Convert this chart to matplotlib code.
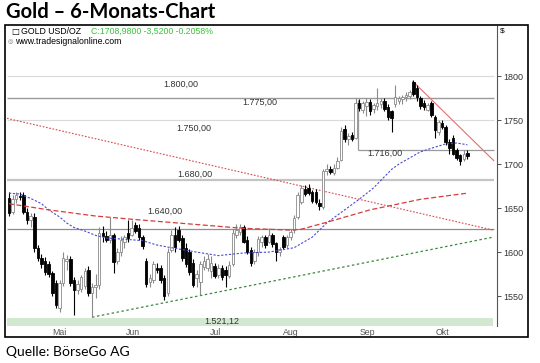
import matplotlib
matplotlib.use("Agg")
import matplotlib.pyplot as plt
from matplotlib.patches import Rectangle

W, H = 540, 363

# daily candles (late April .. late October)
opens = [1662, 1646, 1660, 1664, 1665, 1646, 1637, 1640, 1605, 1593,
         1590, 1586, 1576, 1565, 1537, 1565, 1590, 1592, 1568, 1557,
         1558, 1562, 1580, 1553, 1560, 1563, 1622, 1618, 1614, 1620,
         1590, 1600, 1612, 1622, 1620, 1631, 1627, 1617, 1590, 1566,
         1568, 1582, 1582, 1570, 1553, 1602, 1620, 1625, 1616, 1605,
         1600, 1588, 1570, 1566, 1583, 1582, 1578, 1584, 1574, 1582,
         1580, 1573, 1586, 1620, 1623, 1628, 1614, 1602, 1590, 1600,
         1612, 1617, 1612, 1619, 1610, 1600, 1617, 1608, 1617, 1625,
         1640, 1657, 1672, 1673, 1668, 1668, 1656, 1651, 1692, 1695,
         1690, 1696, 1705, 1740, 1728, 1733, 1730, 1770, 1762, 1766,
         1771, 1763, 1766, 1768, 1772, 1765, 1760, 1768, 1772, 1774,
         1776, 1778, 1793, 1786, 1775, 1770, 1762, 1769, 1753, 1736,
         1747, 1742, 1725, 1730, 1716, 1710, 1706, 1713]
highs = [1668, 1665, 1668, 1668, 1668, 1650, 1645, 1645, 1608, 1598,
         1594, 1590, 1579, 1568, 1568, 1600, 1597, 1596, 1572, 1568,
         1574, 1582, 1584, 1565, 1575, 1628, 1630, 1624, 1640, 1622,
         1605, 1618, 1620, 1636, 1636, 1634, 1632, 1620, 1593, 1575,
         1590, 1588, 1585, 1574, 1605, 1625, 1628, 1630, 1620, 1610,
         1604, 1592, 1580, 1590, 1596, 1598, 1595, 1588, 1586, 1585,
         1584, 1590, 1626, 1632, 1632, 1631, 1618, 1606, 1604, 1618,
         1620, 1620, 1627, 1622, 1612, 1606, 1620, 1620, 1626, 1642,
         1668, 1676, 1676, 1677, 1671, 1672, 1660, 1694, 1700, 1698,
         1700, 1708, 1742, 1744, 1735, 1737, 1775, 1774, 1772, 1775,
         1774, 1770, 1786, 1775, 1775, 1768, 1762, 1790, 1778, 1779,
         1782, 1784, 1796, 1790, 1778, 1773, 1770, 1772, 1756, 1750,
         1750, 1745, 1728, 1733, 1718, 1712, 1716, 1716]
lows = [1641, 1643, 1656, 1659, 1643, 1632, 1628, 1600, 1590, 1582,
        1574, 1572, 1550, 1537, 1532, 1562, 1580, 1562, 1528, 1552,
        1555, 1558, 1550, 1526, 1548, 1558, 1612, 1612, 1610, 1576,
        1586, 1596, 1605, 1612, 1618, 1622, 1614, 1604, 1560, 1560,
        1565, 1576, 1565, 1545, 1550, 1600, 1600, 1612, 1590, 1583,
        1574, 1560, 1560, 1551, 1580, 1578, 1570, 1570, 1570, 1568,
        1560, 1570, 1584, 1616, 1620, 1610, 1598, 1584, 1586, 1596,
        1606, 1605, 1610, 1606, 1590, 1596, 1603, 1605, 1614, 1622,
        1638, 1655, 1664, 1665, 1656, 1655, 1648, 1649, 1688, 1689,
        1688, 1694, 1703, 1725, 1722, 1726, 1728, 1760, 1758, 1755,
        1756, 1758, 1762, 1764, 1760, 1750, 1736, 1765, 1768, 1768,
        1772, 1774, 1778, 1772, 1763, 1762, 1760, 1754, 1730, 1733,
        1740, 1722, 1712, 1710, 1705, 1699, 1703, 1706]
closes = [1645, 1660, 1665, 1663, 1646, 1637, 1641, 1605, 1593, 1586,
          1577, 1575, 1553, 1540, 1565, 1593, 1592, 1565, 1557, 1564,
          1572, 1578, 1553, 1560, 1563, 1622, 1618, 1614, 1620, 1589,
          1600, 1614, 1617, 1616, 1627, 1624, 1617, 1607, 1564, 1570,
          1586, 1580, 1568, 1550, 1600, 1620, 1606, 1614, 1593, 1587,
          1577, 1563, 1575, 1586, 1590, 1592, 1588, 1573, 1582, 1572,
          1574, 1585, 1622, 1625, 1628, 1612, 1600, 1588, 1600, 1615,
          1617, 1608, 1619, 1609, 1600, 1604, 1606, 1617, 1623, 1639,
          1665, 1673, 1666, 1667, 1658, 1657, 1652, 1692, 1695, 1691,
          1696, 1704, 1738, 1728, 1732, 1729, 1770, 1764, 1769, 1771,
          1760, 1767, 1770, 1772, 1763, 1754, 1752, 1776, 1775, 1776,
          1779, 1782, 1780, 1776, 1766, 1765, 1767, 1756, 1739, 1748,
          1742, 1725, 1718, 1712, 1707, 1704, 1712, 1709]

# moving averages (read at candle positions)
ma_fast_x = [0, 3, 6, 9, 11, 14, 16, 18, 21, 24, 27, 34, 37, 41, 45, 52, 58,
             65, 72, 79, 84, 88, 93, 97, 101, 106, 108, 114, 117, 121, 124, 127]
ma_fast_y = [1667, 1666, 1661, 1655, 1648, 1640, 1633, 1628, 1624, 1619, 1616,
             1614, 1613, 1608, 1605, 1600, 1596, 1599, 1600, 1605, 1617, 1633,
             1648, 1660, 1673, 1694, 1700, 1714, 1718, 1723, 1724, 1722]
ma_slow_x = [0, 11, 24, 35, 47, 65, 78, 81, 89, 100, 114, 127]
ma_slow_y = [1655, 1648, 1641, 1637, 1633, 1627, 1625, 1626, 1635, 1648, 1660, 1667]

# trend lines
down_x, down_y = [-0.55, 134.1], [1752, 1625]
up_x, up_y = [23, 134.1], [1526, 1617]
peak_x, peak_y = [111.9, 134.3], [1794, 1704]

# horizontal levels
levels = [1800, 1775, 1750, 1682, 1626]
level_colors = ['#dadada', '#9a9a9a', '#dadada', '#c4c4c4', '#8e8e8e']
level_widths = [0.8, 1.0, 0.8, 1.6, 0.9]
level_labels = ['1.800,00', '1.775,00', '1.750,00', '1.716,00', '1.680,00', '1.640,00', '1.521,12']
label_x = [47.6, 69.5, 51.2, 104.2, 51.5, 43.2, 59.0]
label_y = [1791, 1770.5, 1741, 1712.5, 1688.5, 1646.5, 1521.5]

months = ['Mai', 'Jun', 'Jul', 'Aug', 'Sep', 'Okt']
month_pos = [13.9, 34.3, 57.3, 78.1, 99.2, 120.2]
price_ticks = [1550, 1600, 1650, 1700, 1750, 1800]

fig = plt.figure(figsize=(W / 100, H / 100), dpi=100)
ax = fig.add_axes([6 / W, 1 - 326 / H, 491 / W, 300 / H])
ax.set_xlim(-0.83, 135.2)
ax.set_ylim(1516, 1857)

x0, x1 = -0.55, 134.35
ax.axhspan(1516, 1525.5, xmin=0.002, xmax=0.992, color='#d3e8d0', lw=0, zorder=0)
ax.hlines(levels, x0, x1, colors=level_colors, linewidths=level_widths, zorder=1)
ax.hlines(1716, 96.7, x1, colors='#9a9a9a', linewidths=0.9, zorder=1)
ax.vlines(96.7, 1716, 1773, colors='#9a9a9a', linewidths=0.9, zorder=1)

for t, lx, ly in zip(level_labels, label_x, label_y):
    ax.text(lx, ly, t, ha='center', va='center', fontsize=6.5,
            family='Liberation Sans', color='#333333', zorder=6)

# candles
for i, (o, h, l, c) in enumerate(zip(opens, highs, lows, closes)):
    up = c >= o
    edge = '#8a8a8a' if up else 'black'
    ax.vlines(i, l, h, colors=edge, linewidths=0.8, zorder=3)
    ax.bar(i, max(abs(c - o), 1.0), bottom=min(o, c), width=0.7,
           color='white' if up else 'black', edgecolor=edge, linewidth=0.6, zorder=4)

ax.plot(ma_fast_x, ma_fast_y, color='#4a4ad0', lw=0.8, dashes=(2, 1.5), zorder=5)
ax.plot(ma_slow_x, ma_slow_y, color='#d63c3c', lw=0.9, dashes=(4, 2), zorder=5)
ax.plot(down_x, down_y, color='#d84a4a', lw=0.8, dashes=(1.5, 1.5), zorder=2)
ax.plot(up_x, up_y, color='#3a8a3a', lw=0.9, dashes=(2, 2), zorder=2)
ax.plot(peak_x, peak_y, color='#e07070', lw=0.8, zorder=2)

ax.set_xticks(month_pos, months)
ax.tick_params(axis='x', length=0, pad=1.2, labelsize=6.3, labelcolor='#555555')
ax.yaxis.tick_right()
ax.set_yticks(price_ticks)
ax.tick_params(axis='y', length=3, width=0.6, pad=1.5, labelsize=6.5,
               colors='#333333')
for lab in ax.get_xticklabels() + ax.get_yticklabels():
    lab.set_family('Liberation Sans')
for s in ['top', 'left', 'bottom']:
    ax.spines[s].set_visible(False)
ax.spines['right'].set_color('#555555')
ax.spines['right'].set_linewidth(0.8)

# frame and header
fig.patches.append(Rectangle((5 / W, 1 - 337 / H), 523 / W, 312 / H, transform=fig.transFigure,
                             fill=False, edgecolor='black', lw=1.2))
fig.text(6 / W, 1 - 11.5 / H, 'Gold – 6-Monats-Chart', fontsize=14.5, fontweight='bold',
         family='Lato', va='center', ha='left')
fig.text(11 / W, 1 - 31.5 / H, '□', fontsize=6, va='center', ha='left')
fig.text(21 / W, 1 - 31.5 / H, 'GOLD USD/OZ', fontsize=6.3, family='Liberation Sans',
         va='center', ha='left')
fig.text(91 / W, 1 - 31.5 / H, 'C:1708,9800 -3,5200 -0.2058%', fontsize=6.3,
         family='Liberation Sans', color='#3cbf3c', va='center', ha='left')
fig.text(8 / W, 1 - 42 / H, '◎', fontsize=4.5, color='#777777', va='center', ha='left')
fig.text(15 / W, 1 - 42 / H, 'www.tradesignalonline.com', fontsize=6.3,
         family='Liberation Sans', va='center', ha='left')
fig.text(500 / W, 1 - 31 / H, '$', fontsize=6, family='Liberation Sans', va='center', ha='left')
fig.text(6 / W, 1 - 352 / H, 'Quelle: BörseGo AG', fontsize=10, family='Lato',
         va='center', ha='left')

fig.savefig('out.png', dpi=100)
